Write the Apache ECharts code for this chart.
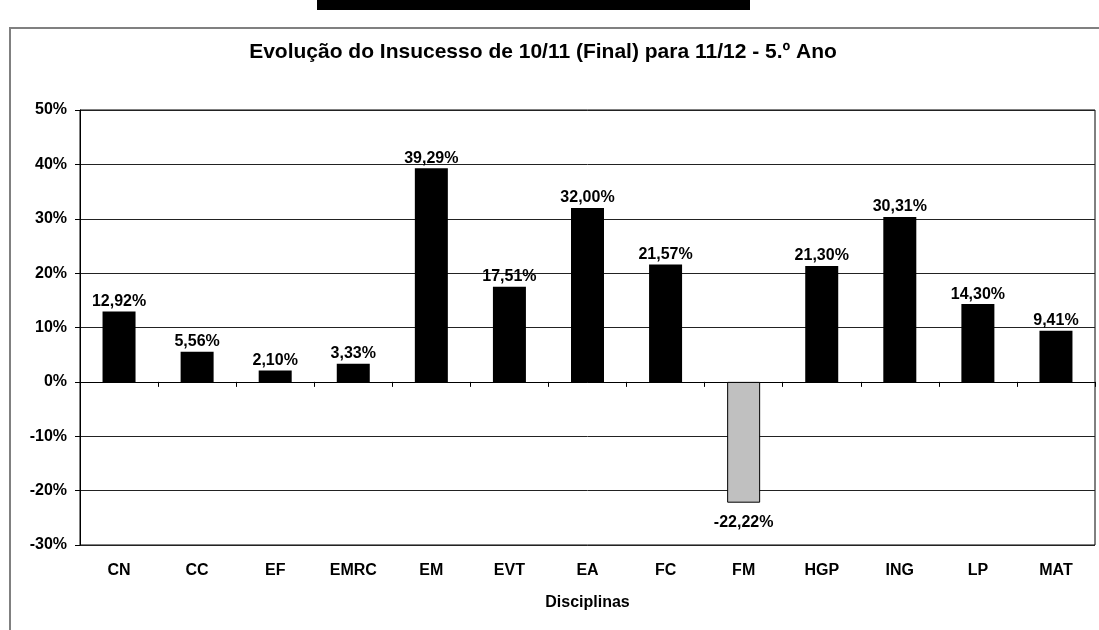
<!DOCTYPE html>
<html>
<head>
<meta charset="utf-8">
<script src="https://cdn.jsdelivr.net/npm/echarts@6/dist/echarts.min.js"></script>
<style>
  html, body { margin: 0; padding: 0; background: #fff; }
  #chart { width: 1099px; height: 630px; }
</style>
</head>
<body>
<div id="chart"></div>
<script>
const title = 'Evolução do Insucesso de 10/11 (Final) para 11/12 - 5.º Ano'
const categories = ['CN', 'CC', 'EF', 'EMRC', 'EM', 'EVT', 'EA', 'FC', 'FM', 'HGP', 'ING', 'LP', 'MAT']
const values = [12.92, 5.56, 2.10, 3.33, 39.29, 17.51, 32.00, 21.57, -22.22, 21.30, 30.31, 14.30, 9.41]
const yMin = -30
const yMax = 50
const yStep = 10

const font = 'Arial, "Liberation Sans", sans-serif'

function pct(v) {
	return v.toFixed(2).replace('.', ',') + '%'
}

const chart = echarts.init(document.getElementById('chart'))

// negative bars are grey with a black edge, label goes below
const barData = values.map(v => {
	if (v < 0) {
		return {
			value: v,
			itemStyle: { color: '#c0c0c0', borderColor: '#000', borderWidth: 1 },
			label: { position: 'bottom', distance: 12 }
		}
	}
	return { value: v }
})

chart.setOption({
	animation: false,
	backgroundColor: '#fff',
	title: {
		text: title,
		left: 538,
		top: 37,
		textAlign: 'center',
		textStyle: { fontFamily: font, fontSize: 21, fontWeight: 'bold', color: '#000' }
	},
	graphic: [
		{ type: 'rect', shape: { x: 317, y: 0, width: 433, height: 10 }, style: { fill: '#000' } },
		{ type: 'rect', shape: { x: 10, y: 28, width: 1200, height: 700 }, style: { fill: 'none', stroke: '#808080', lineWidth: 2 } }
	],
	grid: {
		left: 80,
		right: 4,
		top: 110,
		bottom: 85,
		show: true,
		borderColor: '#000',
		borderWidth: 1
	},
	xAxis: [
		{
			type: 'category',
			data: categories,
			position: 'bottom',
			axisLine: { show: false, onZero: false },
			axisTick: { show: false },
			axisLabel: { margin: 18, fontFamily: font, fontSize: 16, fontWeight: 'bold', color: '#000' },
			name: 'Disciplinas',
			nameLocation: 'middle',
			nameGap: 50,
			nameTextStyle: { fontFamily: font, fontSize: 16, fontWeight: 'bold', color: '#000' }
		},
		{
			// zero line with the small ticks between categories
			type: 'category',
			data: categories,
			position: 'bottom',
			axisLine: { show: true, onZero: true, lineStyle: { color: '#000', width: 1 } },
			axisTick: { show: true, inside: false, length: 5, lineStyle: { color: '#000' } },
			axisLabel: { show: false }
		}
	],
	yAxis: {
		type: 'value',
		min: yMin,
		max: yMax,
		interval: yStep,
		axisLine: { show: true, lineStyle: { color: '#000' } },
		axisTick: { show: true, length: 5, lineStyle: { color: '#000' } },
		splitLine: { lineStyle: { color: '#222', width: 1 } },
		axisLabel: {
			margin: 13,
			fontFamily: font,
			fontSize: 16,
			fontWeight: 'bold',
			color: '#000',
			formatter: v => v + '%'
		}
	},
	series: [{
		type: 'bar',
		xAxisIndex: 0,
		data: barData,
		barWidth: 33,
		itemStyle: { color: '#000' },
		label: {
			show: true,
			position: 'top',
			distance: 2,
			fontFamily: font,
			fontSize: 16,
			fontWeight: 'bold',
			color: '#000',
			formatter: p => pct(p.value)
		}
	}]
})
</script>
</body>
</html>
